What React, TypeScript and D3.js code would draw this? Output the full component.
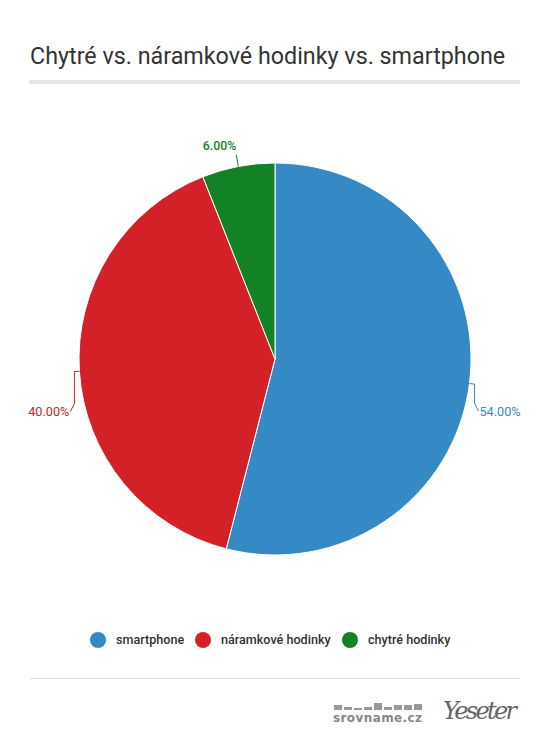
import React, { useEffect, useRef } from 'react';
import * as d3 from 'd3';

const categories = ['smartphone', 'náramkové hodinky', 'chytré hodinky'];
const shares = [54, 40, 6];
const colors = ['#3589c4', '#d42027', '#138226'];
// label vertical nudges (like the original's label distribution)
const labelShift = [27, 40, -12];

const W = 550;
const H = 750;

export default function App() {
  const ref = useRef<SVGSVGElement>(null);

  useEffect(() => {
    const svg = d3.select(ref.current);
    svg.selectAll('*').remove();
    const font = 'Roboto, sans-serif';

    svg.append('text')
      .attr('x', 30).attr('y', 64)
      .attr('font-family', font).attr('font-size', 23.3)
      .attr('fill', '#333')
      .text('Chytré vs. náramkové hodinky vs. smartphone');

    svg.append('rect')
      .attr('x', 29).attr('y', 80).attr('width', 491).attr('height', 4)
      .attr('fill', '#e6e6e6');

    const cx = 275, cy = 359, r = 196;
    const data = categories.map((c, i) => ({ name: c, value: shares[i], color: colors[i], shift: labelShift[i] }));
    const pie = d3.pie<any>().sort(null).value(d => d.value);
    const arcs = pie(data);
    const arc = d3.arc<any>().innerRadius(0).outerRadius(r);

    const g = svg.append('g').attr('transform', `translate(${cx},${cy})`);
    g.selectAll('path.slice')
      .data(arcs)
      .enter()
      .append('path')
      .attr('d', arc)
      .attr('fill', d => d.data.color)
      .attr('stroke', '#fff')
      .attr('stroke-width', 1);

    arcs.forEach(a => {
      const mid = (a.startAngle + a.endAngle) / 2;
      const sx = Math.sin(mid), sy = -Math.cos(mid);
      const right = sx >= 0;
      const side = right ? 1 : -1;
      const p0 = [sx * r, sy * r];
      const p1 = [sx * (r + 4) + side * 1, sy * (r + 4)];
      const ly = sy * (r + 4) + a.data.shift;
      const top = Math.abs(sx) < 0.3;
      let pts: number[][];
      let lx: number;
      if (top) {
        lx = sx * r - 2;
        pts = [p0, [lx, ly + 4]];
      } else {
        const p2 = [p1[0], ly - 8];
        lx = p1[0] + side * 4;
        pts = [p0, p1, p2, [lx, ly]];
      }
      g.append('path')
        .attr('d', d3.line()(pts as [number, number][]))
        .attr('fill', 'none')
        .attr('stroke', a.data.color)
        .attr('stroke-width', 1);
      g.append('text')
        .attr('x', top ? lx : lx + side * 1)
        .attr('y', top ? ly - 5 : ly)
        .attr('dy', '0.35em')
        .attr('text-anchor', top ? 'end' : right ? 'start' : 'end')
        .attr('font-family', font).attr('font-size', top ? 12.3 : 12.7)
        .attr('font-weight', top ? 500 : 400)
        .attr('fill', a.data.color)
        .text(d3.format('.2f')(a.data.value) + '%');
    });

    // legend
    const legendX = [98, 203, 350];
    const lg = svg.append('g');
    data.forEach((d, i) => {
      lg.append('circle').attr('cx', legendX[i]).attr('cy', 640).attr('r', 8).attr('fill', d.color);
      lg.append('text')
        .attr('x', legendX[i] + 18).attr('y', 640).attr('dy', '0.35em')
        .attr('font-family', font).attr('font-size', 12.6).attr('font-weight', 500)
        .attr('fill', '#333')
        .text(d.name);
    });

    svg.append('rect')
      .attr('x', 30).attr('y', 678).attr('width', 490).attr('height', 1)
      .attr('fill', '#ddd');

    // footer logos
    const blocks = [5, 3, 2, 3, 7, 3, 5, 5, 6];
    let bx = 334;
    blocks.forEach(h => {
      svg.append('rect').attr('x', bx).attr('y', 710 - h).attr('width', 8).attr('height', h).attr('fill', '#999');
      bx += 10;
    });
    svg.append('text')
      .attr('x', 333).attr('y', 722)
      .attr('font-family', 'DejaVu Sans, sans-serif').attr('font-size', 12).attr('font-weight', 'bold')
      .attr('fill', '#888')
      .attr('textLength', 89)
      .text('srovname.cz');
    svg.append('text')
      .attr('x', 443).attr('y', 719)
      .attr('font-family', 'DejaVu Serif, serif').attr('font-size', 24).attr('font-style', 'italic')
      .attr('fill', '#666')
      .attr('textLength', 74)
      .text('Yeseter');
  }, []);

  return (
    <svg ref={ref} width={W} height={H}
      style={{ position: 'absolute', left: 0, top: 0, background: '#fff' }} />
  );
}
